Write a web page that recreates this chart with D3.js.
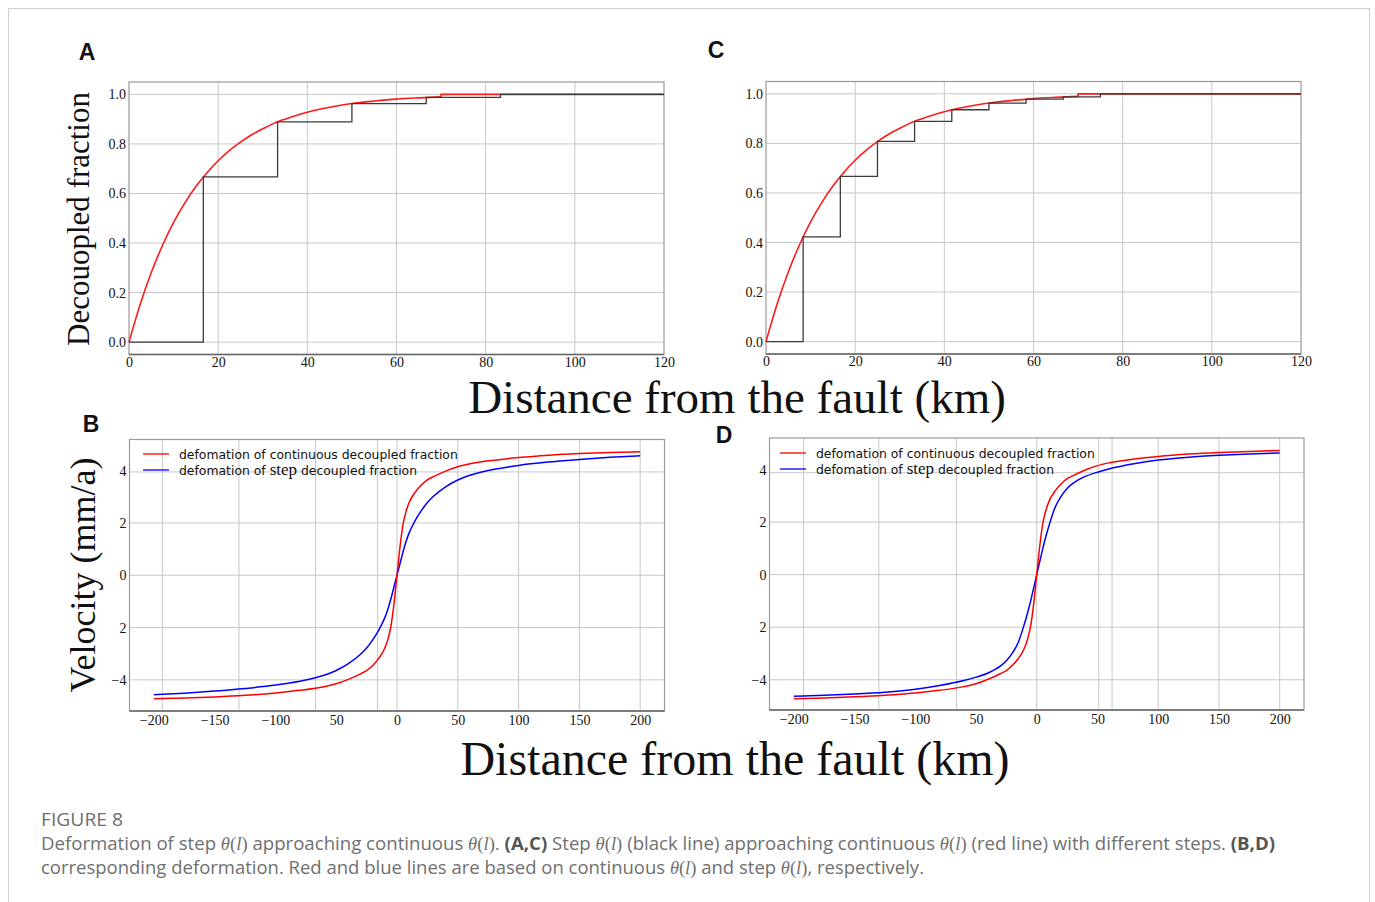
<!DOCTYPE html>
<html><head><meta charset="utf-8">
<script src="https://cdn.jsdelivr.net/npm/d3@7"></script>
<style>body{margin:0;background:#fff}</style>
</head><body>
<svg id="fig" width="1375" height="902" xmlns="http://www.w3.org/2000/svg"></svg>
<script>
// ---------- data ----------
const fracXTicks = [0, 20, 40, 60, 80, 100, 120];
const fracXLabels = ["0", "20", "40", "60", "80", "100", "120"];
const fracYTicks = [0, 0.2, 0.4, 0.6, 0.8, 1.0];
const fracYLabels = ["0.0", "0.2", "0.4", "0.6", "0.8", "1.0"];
const fracGridX = [20, 40, 60, 80, 100];
const fracGridY = [0, 0.2, 0.4, 0.6, 0.8, 1.0];

const contX = [0, 2.5, 5, 7.5, 10, 12.5, 15, 17.5, 20, 22.5, 25, 27.5, 30, 32.5, 35, 37.5, 40, 42.5, 45, 47.5, 50, 55, 60, 65, 70];
const contY = [0, 0.152, 0.281, 0.390, 0.483, 0.561, 0.628, 0.684, 0.732, 0.773, 0.807, 0.837, 0.861, 0.883, 0.900, 0.915, 0.928, 0.939, 0.948, 0.956, 0.963, 0.973, 0.981, 0.986, 0.990];
const contTailX = [70, 70, 120];
const contTailY = [0.990, 1.0, 1.0];

// step decoupled fraction (black)
const stepAEdges = [0, 16.67, 33.33, 50, 66.67, 83.33, 120];
const stepAVals = [0, 0.667, 0.889, 0.963, 0.988, 1.0];
const stepCEdges = [0, 8.33, 16.67, 25, 33.33, 41.67, 50, 58.33, 66.67, 75, 120];
const stepCVals = [0, 0.423, 0.667, 0.808, 0.889, 0.936, 0.963, 0.979, 0.988, 1.0];

// velocity profiles (panels B and D)
const velX = [-200, -175, -150, -125, -100, -80, -60, -50, -40, -30, -25, -20, -15, -10, -7.5, -5, -2.5, 0, 2.5, 5, 7.5, 10, 15, 20, 25, 30, 40, 50, 60, 80, 100, 125, 150, 175, 200];
const velRed = [-4.72, -4.69, -4.65, -4.59, -4.5, -4.4, -4.26, -4.15, -3.98, -3.77, -3.65, -3.45, -3.18, -2.78, -2.45, -1.95, -1.1, 0, 1.1, 1.95, 2.45, 2.78, 3.18, 3.45, 3.65, 3.77, 3.98, 4.15, 4.26, 4.4, 4.5, 4.59, 4.65, 4.69, 4.72];
const velBlueB = [-4.57, -4.51, -4.43, -4.33, -4.2, -4.05, -3.82, -3.64, -3.38, -3.02, -2.78, -2.47, -2.1, -1.62, -1.3, -0.9, -0.45, 0, 0.45, 0.9, 1.3, 1.62, 2.1, 2.47, 2.78, 3.02, 3.38, 3.64, 3.82, 4.05, 4.2, 4.33, 4.43, 4.51, 4.57];
const velBlueD = [-4.63, -4.59, -4.54, -4.47, -4.36, -4.22, -4.03, -3.9, -3.74, -3.48, -3.28, -2.98, -2.55, -1.85, -1.45, -1.0, -0.5, 0, 0.5, 1.0, 1.45, 1.85, 2.55, 2.98, 3.28, 3.48, 3.74, 3.9, 4.03, 4.22, 4.36, 4.47, 4.54, 4.59, 4.63];

const velXTicks = [-200, -150, -100, -50, 0, 50, 100, 150, 200];
const velXLabels = ["\u2212200", "\u2212150", "\u2212100", "50", "0", "50", "100", "150", "200"];
const velYTicks = [4, 2, 0, -2, -4];
const velYLabels = ["4", "2", "0", "2", "\u22124"];
const velGridXB = [-193, -130, -67, -16, 0, 50, 100, 150, 200];
const velGridXD = [-192, -130, -66, 0, 51, 62, 100, 150, 200];
const velGridYB = [3.95, 2, 0, -2, -4];
const velGridYD = [3.88, 2, 0, -2, -4];

const legendLabels = ["defomation of continuous decoupled fraction", "defomation of ", "step", " decoupled fraction"];

// ---------- drawing ----------
const svg = d3.select("#fig");
const SERIF = "'Liberation Serif','Times New Roman',serif";
const SANS = "'DejaVu Sans',sans-serif";

svg.append("rect").attr("x", 8.5).attr("y", 8.5).attr("width", 1361).attr("height", 905)
  .attr("fill", "none").attr("stroke", "#d0d0d0").attr("stroke-width", 1);

function panel(box, xDom, yDom, opts) {
  const x = d3.scaleLinear().domain(xDom).range([box.x0, box.x1]);
  const y = d3.scaleLinear().domain(yDom).range([box.y1, box.y0]);
  const g = svg.append("g");
  g.selectAll(".gx").data(opts.gridX).join("line")
    .attr("x1", d => x(d)).attr("x2", d => x(d)).attr("y1", box.y0).attr("y2", box.y1)
    .attr("stroke", "#c8c8c8").attr("stroke-width", 1);
  g.selectAll(".gy").data(opts.gridY).join("line")
    .attr("x1", box.x0).attr("x2", box.x1).attr("y1", d => y(d)).attr("y2", d => y(d))
    .attr("stroke", "#c8c8c8").attr("stroke-width", 1);
  g.append("rect").attr("x", box.x0).attr("y", box.y0).attr("width", box.x1 - box.x0).attr("height", box.y1 - box.y0)
    .attr("fill", "none").attr("stroke", "#9a9a9a").attr("stroke-width", 1.2);
  g.append("line").attr("x1", box.x0).attr("x2", box.x1).attr("y1", box.y1).attr("y2", box.y1)
    .attr("stroke", "#666").attr("stroke-width", 1.4);
  const ax = d3.axisBottom(x).tickValues(opts.xTicks).tickFormat((d, i) => opts.xLabels[i]).tickSize(0).tickPadding(opts.xPad);
  const axG = g.append("g").attr("transform", `translate(0,${box.y1})`).call(ax);
  axG.select(".domain").remove();
  axG.selectAll("text").attr("font-family", SERIF).attr("font-size", opts.fs).attr("fill", "#111");
  const ay = d3.axisLeft(y).tickValues(opts.yTicks).tickFormat((d, i) => opts.yLabels[i]).tickSize(0).tickPadding(opts.yPad);
  const ayG = g.append("g").attr("transform", `translate(${box.x0},0)`).call(ay);
  ayG.select(".domain").remove();
  ayG.selectAll("text").attr("font-family", SERIF).attr("font-size", opts.fs).attr("fill", "#111");
  return {x, y, g};
}

function fracPanel(box, edges, vals) {
  const p = panel(box, [0, 120], [-0.05, 1.05], {
    gridX: fracGridX, gridY: fracGridY, xTicks: fracXTicks, xLabels: fracXLabels,
    yTicks: fracYTicks, yLabels: fracYLabels, fs: 14, xPad: 2.5, yPad: 3
  });
  const line = d3.line().x(d => p.x(d[0])).y(d => p.y(d[1]));
  const smooth = d3.line().x(d => p.x(d[0])).y(d => p.y(d[1])).curve(d3.curveMonotoneX);
  p.g.append("path").datum(contX.map((d, i) => [d, contY[i]])).attr("d", smooth)
    .attr("fill", "none").attr("stroke", "#ff1a1a").attr("stroke-width", 1.6);
  p.g.append("path").datum(contTailX.map((d, i) => [d, contTailY[i]])).attr("d", line)
    .attr("fill", "none").attr("stroke", "#ff1a1a").attr("stroke-width", 1.6);
  const pts = [];
  vals.forEach((v, i) => { pts.push([edges[i], v]); pts.push([edges[i + 1], v]); });
  p.g.append("path").datum(pts).attr("d", line)
    .attr("fill", "none").attr("stroke", "#3a3a3a").attr("stroke-width", 1.3);
}

function velPanel(box, yDom, blue, gridX, gridY, leg) {
  const p = panel(box, [-220, 220], yDom, {
    gridX: gridX, gridY: gridY, xTicks: velXTicks, xLabels: velXLabels,
    yTicks: velYTicks, yLabels: velYLabels, fs: 14, xPad: 4, yPad: 3
  });
  const line = d3.line().x(d => p.x(d[0])).y(d => p.y(d[1])).curve(d3.curveMonotoneX);
  p.g.append("path").datum(velX.map((d, i) => [d, blue[i]])).attr("d", line)
    .attr("fill", "none").attr("stroke", "#0000ff").attr("stroke-width", 1.5);
  p.g.append("path").datum(velX.map((d, i) => [d, velRed[i]])).attr("d", line)
    .attr("fill", "none").attr("stroke", "#ff0000").attr("stroke-width", 1.5);
  const lg = p.g.append("g");
  lg.append("line").attr("x1", leg.x).attr("x2", leg.x + 26).attr("y1", leg.y).attr("y2", leg.y).attr("stroke", "#ff0000").attr("stroke-width", 1.3);
  lg.append("line").attr("x1", leg.x).attr("x2", leg.x + 26).attr("y1", leg.y + 16).attr("y2", leg.y + 16).attr("stroke", "#0000ff").attr("stroke-width", 1.3);
  lg.append("text").attr("x", leg.x + 36).attr("y", leg.y + 4.5).attr("font-family", SANS).attr("font-size", 12.4)
    .attr("fill", "#111").text(legendLabels[0]);
  const t2 = lg.append("text").attr("x", leg.x + 36).attr("y", leg.y + 20.5).attr("font-family", SANS).attr("font-size", 12.4).attr("fill", "#111");
  t2.append("tspan").text(legendLabels[1]);
  t2.append("tspan").attr("font-family", SERIF).attr("font-size", 17).text(legendLabels[2]);
  t2.append("tspan").text(legendLabels[3]);
}

fracPanel({x0: 129, x1: 664, y0: 82, y1: 354.5}, stepAEdges, stepAVals);
fracPanel({x0: 766, x1: 1301, y0: 81.5, y1: 354}, stepCEdges, stepCVals);
velPanel({x0: 129.5, x1: 664.5, y0: 439.5, y1: 711}, [-5.19, 5.19], velBlueB, velGridXB, velGridYB, {x: 143, y: 454});
velPanel({x0: 769.5, x1: 1304, y0: 438, y1: 710}, [-5.15, 5.2], velBlueD, velGridXD, velGridYD, {x: 780, y: 453});

const letters = [["A", 87, 60], ["C", 716, 58], ["B", 91, 432], ["D", 724, 443]];
svg.selectAll(".lt").data(letters).join("text")
  .attr("x", d => d[1]).attr("y", d => d[2]).attr("text-anchor", "middle")
  .attr("font-family", "'Liberation Sans',Arial,sans-serif").attr("font-weight", "bold").attr("font-size", 23)
  .attr("fill", "#111").text(d => d[0]);

svg.append("text").attr("transform", "translate(89,219) rotate(-90)").attr("text-anchor", "middle")
  .attr("font-family", SERIF).attr("font-size", 31).attr("fill", "#111").text("Decouopled fraction");
svg.append("text").attr("transform", "translate(95,575) rotate(-90)").attr("text-anchor", "middle")
  .attr("font-family", SERIF).attr("font-size", 36).attr("fill", "#111").text("Velocity (mm/a)");
svg.append("text").attr("x", 737).attr("y", 413).attr("text-anchor", "middle")
  .attr("font-family", SERIF).attr("font-size", 47).attr("fill", "#111").text("Distance from the fault (km)");
svg.append("text").attr("x", 735).attr("y", 775).attr("text-anchor", "middle")
  .attr("font-family", SERIF).attr("font-size", 48).attr("fill", "#111").text("Distance from the fault (km)");

const CAP = "'Open Sans','Noto Sans',sans-serif";
svg.append("text").attr("x", 41).attr("y", 826).attr("font-family", CAP).attr("font-size", 18)
  .attr("fill", "#6e6e6e").attr("textLength", 82).attr("lengthAdjust", "spacingAndGlyphs").text("FIGURE 8");
function theta(t) {
  t.append("tspan").attr("font-family", SERIF).attr("font-style", "italic").text("\u03B8");
  t.append("tspan").attr("font-family", SERIF).text("(");
  t.append("tspan").attr("font-family", SERIF).attr("font-style", "italic").text("l");
  t.append("tspan").attr("font-family", SERIF).text(")");
}
const c1 = svg.append("text").attr("x", 41).attr("y", 850).attr("font-family", CAP).attr("font-size", 18)
  .attr("fill", "#707070").attr("textLength", 1234).attr("lengthAdjust", "spacingAndGlyphs");
c1.append("tspan").text("Deformation of step "); theta(c1);
c1.append("tspan").text(" approaching continuous "); theta(c1);
c1.append("tspan").text(". ");
c1.append("tspan").attr("font-weight", "bold").attr("fill", "#555").text("(A,C)");
c1.append("tspan").text(" Step "); theta(c1);
c1.append("tspan").text(" (black line) approaching continuous "); theta(c1);
c1.append("tspan").text(" (red line) with different steps. ");
c1.append("tspan").attr("font-weight", "bold").attr("fill", "#555").text("(B,D)");
const c2 = svg.append("text").attr("x", 41).attr("y", 874).attr("font-family", CAP).attr("font-size", 18)
  .attr("fill", "#707070").attr("textLength", 883).attr("lengthAdjust", "spacingAndGlyphs");
c2.append("tspan").text("corresponding deformation. Red and blue lines are based on continuous "); theta(c2);
c2.append("tspan").text(" and step "); theta(c2);
c2.append("tspan").text(", respectively.");
</script>
</body></html>
